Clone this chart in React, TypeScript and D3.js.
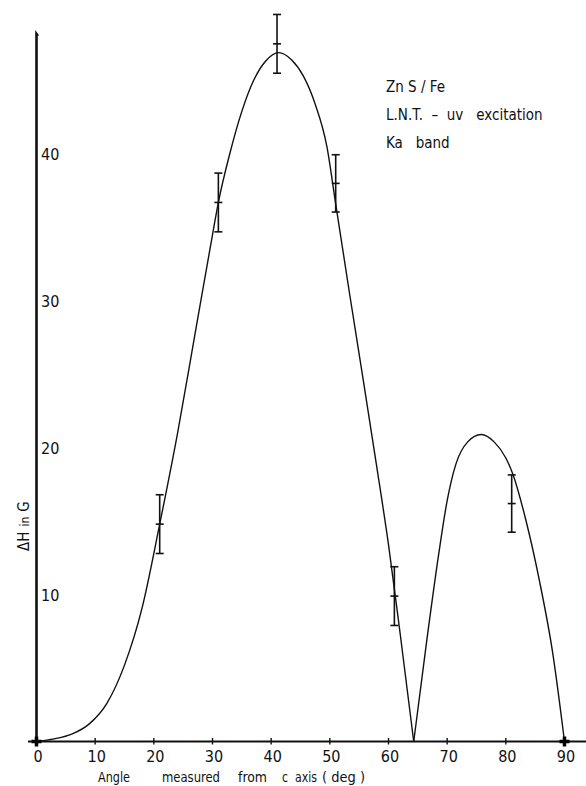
import * as d3 from "d3";

// fitted curve (angle in deg, ΔH in G)
const riseAngles = [0, 3, 6, 9, 12, 15, 18, 21, 24, 27, 30, 31, 33, 35, 37, 39, 41.3, 43.5, 45.5, 47.5, 49.5, 51, 53.4, 55.7, 58, 60, 62, 64.3];
const riseValues = [0, 0.18, 0.5, 1.2, 2.6, 5.2, 9.1, 14.8, 20.9, 27.7, 34.5, 36.7, 40.1, 42.9, 45.0, 46.3, 46.9, 46.4, 45.3, 43.4, 40.5, 36.6, 30.4, 24.6, 18.7, 13.4, 7.3, 0];
const humpAngles = [64.3, 66.5, 68.5, 70, 71.5, 73.5, 75.8, 78, 80, 81.2, 83.4, 85.7, 88, 90];
const humpValues = [0, 6.8, 12.6, 16.4, 18.9, 20.4, 20.9, 20.4, 19.3, 18.2, 15.1, 11.0, 6.0, 0];

// measured points with error bars
const pointAngles = [21, 31, 41, 51, 61, 81];
const pointValues = [14.8, 36.7, 47.5, 38.0, 9.9, 16.2];
const pointErrors = [2.0, 2.0, 2.0, 1.95, 2.0, 1.95];

// zero points drawn as bold crosses
const zeroAngles = [0, 90];

const xTicks = [0, 10, 20, 30, 40, 50, 60, 70, 80, 90];
const yTicks = [10, 20, 30, 40];

const legendLines = ["Zn S / Fe", "L.N.T.  –  uv   excitation", "Ka   band"];

// words of the x title with their left edge and width
const titleWords = ["Angle", "measured", "from", "c", "axis", "( deg )"];
const titleX = [98, 162, 238, 282, 295, 322];
const titleW = [32, 58, 29, 6, 22, 43];

const FONT = "'DejaVu Sans Condensed', 'Liberation Sans Narrow', 'Open Sans', sans-serif";

export default function App() {
  const width = 586,
    height = 786;

  const x = d3.scaleLinear().domain([0, 90]).range([36.5, 564.5]);
  const y = d3.scaleLinear().domain([0, 40]).range([741.5, 154]);

  const line = d3
    .line<[number, number]>()
    .x(d => x(d[0]))
    .y(d => y(d[1]))
    .curve(d3.curveMonotoneX);

  const rise = line(riseAngles.map((a, i) => [a, riseValues[i]]));
  const hump = line(humpAngles.map((a, i) => [a, humpValues[i]]));

  const x0 = x(0);
  const y0 = y(0);

  return (
    <svg
      width={width}
      height={height}
      style={{ position: "absolute", left: 0, top: 0, background: "#fff" }}
      fontFamily={FONT}
    >
      {/* axes */}
      <line x1={28} x2={586} y1={y0} y2={y0} stroke="#111" strokeWidth={2} />
      <path d={`M${x0},${y0} L${x0},34 l1.5,2`} fill="none" stroke="#111" strokeWidth={2.6} />

      {xTicks.map(t => (
        <g key={t}>
          <line x1={x(t)} x2={x(t)} y1={y0 - 3.5} y2={y0 + 3} stroke="#111" strokeWidth={1.4} />
          <text x={x(t) + 1.5} y={762} textAnchor="middle" fontSize={16} fill="#111">
            {t}
          </text>
        </g>
      ))}

      {yTicks.map(t => (
        <text key={t} x={41} y={y(t) + 6} fontSize={16} fill="#111">
          {t}
        </text>
      ))}

      {/* axis titles */}
      {titleWords.map((w, i) => (
        <text
          key={i}
          x={titleX[i]}
          y={782}
          fontSize={14}
          fill="#111"
          textLength={titleW[i]}
          lengthAdjust="spacingAndGlyphs"
          style={{ whiteSpace: "pre" }}
        >
          {w}
        </text>
      ))}
      <text transform="translate(29,551) rotate(-90)" fontSize={15} fill="#111">
        <tspan>ΔH</tspan>
        <tspan dx={5} fontSize={12}>in</tspan>
        <tspan dx={5}>G</tspan>
      </text>

      {/* legend */}
      {legendLines.map((s, i) => (
        <text key={i} x={386} y={92 + i * 28} fontSize={15} fill="#111" style={{ whiteSpace: "pre" }}>
          {s}
        </text>
      ))}

      {/* curve */}
      <path d={rise ?? ""} fill="none" stroke="#111" strokeWidth={1.4} />
      <path d={hump ?? ""} fill="none" stroke="#111" strokeWidth={1.4} />

      {/* error bars */}
      {pointAngles.map((a, i) => {
        const cx = x(a);
        const top = y(pointValues[i] + pointErrors[i]);
        const mid = y(pointValues[i]);
        const bot = y(pointValues[i] - pointErrors[i]);
        return (
          <g key={a} stroke="#111" strokeWidth={1.6}>
            <line x1={cx} x2={cx} y1={top} y2={bot} />
            <line x1={cx - 4} x2={cx + 4} y1={top} y2={top} />
            <line x1={cx - 4} x2={cx + 4} y1={mid} y2={mid} />
            <line x1={cx - 4} x2={cx + 4} y1={bot} y2={bot} />
          </g>
        );
      })}

      {/* zero points */}
      {zeroAngles.map(a => (
        <path
          key={a}
          d={`M${x(a) - 5},${y0} h10 M${x(a)},${y0 - 5} v10`}
          stroke="#000"
          strokeWidth={3.5}
        />
      ))}
    </svg>
  );
}
